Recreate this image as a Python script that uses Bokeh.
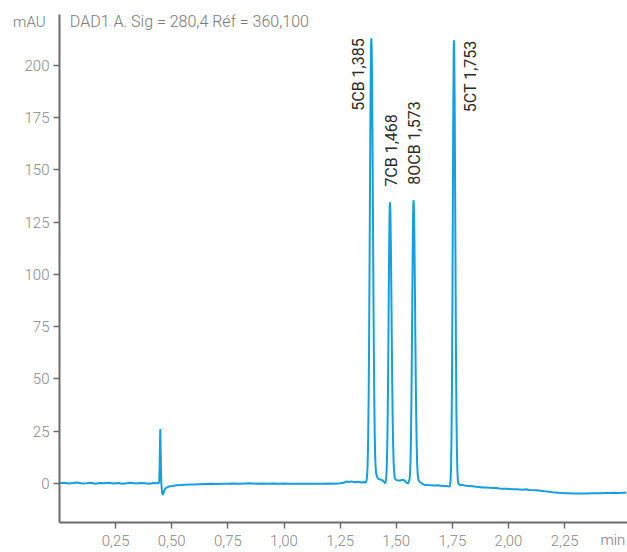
import numpy as np
from bokeh.plotting import figure
from bokeh.models import Range1d, FixedTicker, Label, ColumnDataSource, LinearAxis
from bokeh.core.properties import value
from bokeh.embed import file_html
from bokeh.resources import INLINE

# ---------------- data ----------------
time_min = [
    0.000, 0.020, 0.040, 0.060, 0.080, 0.100, 0.120, 0.140, 0.160, 0.180,
    0.200, 0.220, 0.240, 0.260, 0.280, 0.300, 0.320, 0.340, 0.360, 0.380,
    0.400, 0.420, 0.440, 0.444, 0.446, 0.448, 0.449, 0.450, 0.452, 0.454,
    0.457, 0.460, 0.463, 0.467, 0.472, 0.480, 0.490, 0.505, 0.520, 0.540,
    0.560, 0.580, 0.600, 0.625, 0.650, 0.675, 0.700, 0.725, 0.750, 0.775,
    0.800, 0.825, 0.850, 0.875, 0.900, 0.925, 0.950, 0.975, 1.000, 1.025,
    1.050, 1.075, 1.100, 1.125, 1.150, 1.175, 1.200, 1.225, 1.250, 1.265,
    1.280, 1.290, 1.300, 1.315, 1.330, 1.345, 1.355, 1.362,
    # 5CB
    1.366, 1.369, 1.371, 1.373, 1.375, 1.377, 1.379, 1.381, 1.383, 1.385,
    1.387, 1.388, 1.389, 1.390, 1.392, 1.394, 1.396, 1.398, 1.400, 1.402,
    1.404, 1.406, 1.408, 1.410, 1.413, 1.417, 1.422, 1.428, 1.434, 1.440,
    1.445, 1.449, 1.451,
    # 7CB
    1.454, 1.456, 1.458, 1.460, 1.462, 1.464, 1.466, 1.468, 1.470, 1.471,
    1.472, 1.473, 1.474, 1.476, 1.478, 1.480, 1.482, 1.484, 1.486, 1.488,
    1.490, 1.493, 1.497, 1.503, 1.510, 1.518, 1.526, 1.532, 1.537, 1.542,
    1.548, 1.553,
    # 8OCB
    1.555, 1.559, 1.561, 1.563, 1.565, 1.567, 1.569, 1.571, 1.573, 1.575,
    1.576, 1.577, 1.578, 1.579, 1.581, 1.583, 1.585, 1.587, 1.589, 1.591,
    1.593, 1.595, 1.598, 1.602, 1.607, 1.613, 1.620, 1.627, 1.640, 1.655,
    1.670, 1.685, 1.700, 1.715, 1.730, 1.738,
    # 5CT
    1.740, 1.742, 1.744, 1.746, 1.748, 1.750, 1.752, 1.754, 1.756, 1.757,
    1.758, 1.760, 1.762, 1.764, 1.766, 1.768, 1.770, 1.772, 1.774, 1.776,
    1.779, 1.783, 1.790, 1.797,
    # tail
    1.810, 1.825, 1.840, 1.855, 1.870, 1.885, 1.900, 1.915, 1.930, 1.945,
    1.960, 1.975, 1.990, 2.005, 2.020, 2.035, 2.050, 2.065, 2.080, 2.090,
    2.105, 2.120, 2.135, 2.150, 2.165, 2.180, 2.195, 2.210, 2.225, 2.240,
    2.255, 2.270, 2.290, 2.310, 2.330, 2.350, 2.370, 2.390, 2.410, 2.430,
    2.450, 2.470, 2.490, 2.510, 2.525,
]
signal_mau = [
    0.0, 0.2, -0.1, 0.1, 0.3, -0.1, 0.0, 0.2, -0.2, 0.1,
    0.0, 0.2, -0.1, 0.1, -0.2, 0.0, 0.2, -0.1, 0.1, 0.0,
    -0.2, 0.1, 0.0, 0.4, 8.0, 22.0, 26.0, 20.0, 6.0, -1.0,
    -4.5, -5.6, -4.8, -3.4, -2.5, -1.9, -1.5, -1.3, -1.0, -0.9,
    -0.7, -0.6, -0.6, -0.5, -0.4, -0.3, -0.4, -0.2, -0.3, -0.1,
    -0.2, -0.1, 0.0, -0.2, -0.1, -0.2, -0.1, -0.2, -0.1, -0.2,
    -0.3, -0.2, -0.3, -0.2, -0.3, -0.2, -0.1, -0.2, 0.0, 0.2,
    0.8, 0.6, 0.9, 0.5, 0.7, 0.4, 0.6, 0.3,
    # 5CB
    0.5, 2.2, 5.2, 11.3, 22.4, 40.8, 67.6, 102.0, 141.0, 177.0,
    203.0, 211.0, 213.0, 211.0, 195.0, 167.0, 133.0, 97.5, 66.0, 41.7,
    24.3, 13.1, 8.0, 5.0, 3.5, 2.4, 2.0, 1.8, 1.6, 1.3,
    0.7, 0.2, 0.0,
    # 7CB
    1.2, 3.8, 8.8, 18.2, 33.5, 55.3, 81.6, 108.0, 127.0, 132.6,
    134.5, 133.0, 129.0, 114.0, 93.0, 70.0, 48.5, 31.0, 19.0, 11.0,
    6.2, 2.8, 1.8, 1.4, 1.3, 1.3, 1.5, 1.7, 1.3, 0.6,
    0.1, 0.0,
    # 8OCB
    0.5, 1.8, 3.9, 8.9, 18.3, 33.7, 55.6, 82.0, 108.5, 128.0,
    133.5, 135.4, 134.0, 130.0, 115.0, 94.0, 70.5, 48.8, 31.2, 18.3,
    9.9, 5.0, 2.0, 1.0, 0.5, 0.0, -0.5, -0.8, -0.9, -1.0,
    -1.1, -1.0, -1.2, -1.3, -1.5, -1.6,
    # 5CT
    -0.6, 1.7, 7.7, 21.0, 45.7, 84.0, 132.0, 178.0, 208.0, 212.0,
    209.0, 185.0, 146.0, 101.0, 63.0, 34.0, 16.5, 6.8, 2.2, 0.2,
    -0.5, -0.8, -0.9, -0.9,
    # tail
    -1.2, -1.3, -1.5, -1.7, -1.8, -2.0, -2.1, -2.2, -2.3, -2.3,
    -2.5, -2.6, -2.7, -2.8, -2.9, -2.9, -3.0, -3.1, -2.9, -3.2,
    -3.3, -3.4, -3.5, -3.7, -3.9, -4.1, -4.3, -4.4, -4.6, -4.7,
    -4.8, -4.8, -4.9, -4.9, -4.9, -4.9, -4.8, -4.8, -4.8, -4.7,
    -4.7, -4.6, -4.7, -4.6, -4.6,
]

peak_names = ["5CB", "7CB", "8OCB", "5CT"]
peak_rt = [1.385, 1.468, 1.573, 1.753]
peak_height = [213.0, 134.5, 135.4, 212.0]

x_ticks = [0.25, 0.50, 0.75, 1.00, 1.25, 1.50, 1.75, 2.00, 2.25]
x_tick_labels = ["0,25", "0,50", "0,75", "1,00", "1,25", "1,50", "1,75", "2,00", "2,25"]
y_ticks = [0, 25, 50, 75, 100, 125, 150, 175, 200]

title_text = "DAD1 A. Sig = 280,4 Réf = 360,100"
y_unit = "mAU"
x_unit = "min"

# ---------------- styling ----------------
FONT = "Roboto"
LIGHT = "Roboto Light, Roboto"
LINE_COLOR = "#149fe0"
AXIS_COLOR = "#6b6b6b"
TICK_TEXT = "#8a8a8a"
LABEL_TEXT = "#2b2b2b"

X_END, Y_START, Y_END = 2.53, -18.8, 224.4

p = figure(
    width=627, height=552,
    output_backend="svg", toolbar_location=None,
    x_range=Range1d(0, X_END), y_range=Range1d(Y_START, Y_END),
    min_border_left=59, min_border_right=0, min_border_top=14, min_border_bottom=30,
)
p.outline_line_color = None
p.grid.visible = False
p.background_fill_color = "white"
p.border_fill_color = "white"

for ax in (p.xaxis, p.yaxis):
    ax.axis_line_color = AXIS_COLOR
    ax.axis_line_width = 2
    ax.major_tick_line_color = AXIS_COLOR
    ax.major_tick_line_width = 1.5
    ax.major_tick_out = 6
    ax.major_tick_in = 0
    ax.minor_tick_out = 0
    ax.minor_tick_in = 0
    ax.major_label_text_font = LIGHT
    ax.major_label_text_font_size = "15px"
    ax.major_label_text_color = TICK_TEXT

p.xaxis.ticker = FixedTicker(ticks=x_ticks)
p.xaxis.major_label_overrides = {t: s for t, s in zip(x_ticks, x_tick_labels)}
p.xaxis.major_label_standoff = 6
p.yaxis.ticker = FixedTicker(ticks=y_ticks)
p.yaxis.major_label_standoff = 4

# unit captions as label-only axes sharing the row/column of the tick labels
unit_y_pos = 221.0
unit_x_pos = 2.465
y_unit_axis = LinearAxis(ticker=FixedTicker(ticks=[unit_y_pos]),
                         major_label_overrides={unit_y_pos: y_unit})
x_unit_axis = LinearAxis(ticker=FixedTicker(ticks=[unit_x_pos]),
                         major_label_overrides={unit_x_pos: x_unit})
for ax in (y_unit_axis, x_unit_axis):
    ax.axis_line_color = None
    ax.major_tick_line_color = None
    ax.minor_tick_line_color = None
    ax.major_tick_out = 0
    ax.major_tick_in = 0
    ax.minor_tick_out = 0
    ax.minor_tick_in = 0
    ax.major_label_text_font = LIGHT
    ax.major_label_text_font_size = "15px"
    ax.major_label_text_color = "#7a7a7a"
y_unit_axis.major_label_standoff = -24
x_unit_axis.major_label_standoff = -18
p.add_layout(y_unit_axis, "left")
p.add_layout(x_unit_axis, "below")

p.line(time_min, signal_mau, line_color=LINE_COLOR, line_width=2)

# peak annotations (vertical text)
texts = [f"{n} {rt:.3f}".replace(".", ",") for n, rt in zip(peak_names, peak_rt)]
side_idx = [0, 3]      # labels beside tall peaks, ending at the top
top_idx = [1, 2]       # labels standing above the smaller peaks
side_offsets = [-12, 17]

side_src = ColumnDataSource(dict(
    x=[peak_rt[i] for i in side_idx],
    y=[peak_height[i] for i in side_idx],
    text=[texts[i] for i in side_idx],
    xo=side_offsets,
))
p.text(x="x", y="y", text="text", source=side_src, angle=np.pi / 2,
       text_align="right", text_baseline="middle", x_offset="xo",
       text_font=value(FONT), text_font_size="16px", text_color=LABEL_TEXT)

top_src = ColumnDataSource(dict(
    x=[peak_rt[i] for i in top_idx],
    y=[peak_height[i] + 7.5 for i in top_idx],
    text=[texts[i] for i in top_idx],
))
p.text(x="x", y="y", text="text", source=top_src, angle=np.pi / 2,
       text_align="left", text_baseline="middle", x_offset=2,
       text_font=value(FONT), text_font_size="16px", text_color=LABEL_TEXT)

p.add_layout(Label(x=0.046, y=221, text=title_text, text_align="left",
                   text_baseline="middle", text_font=LIGHT, text_font_size="16px",
                   text_color="#7a7a7a"))

open("out.html", "w").write(file_html(p, INLINE))
